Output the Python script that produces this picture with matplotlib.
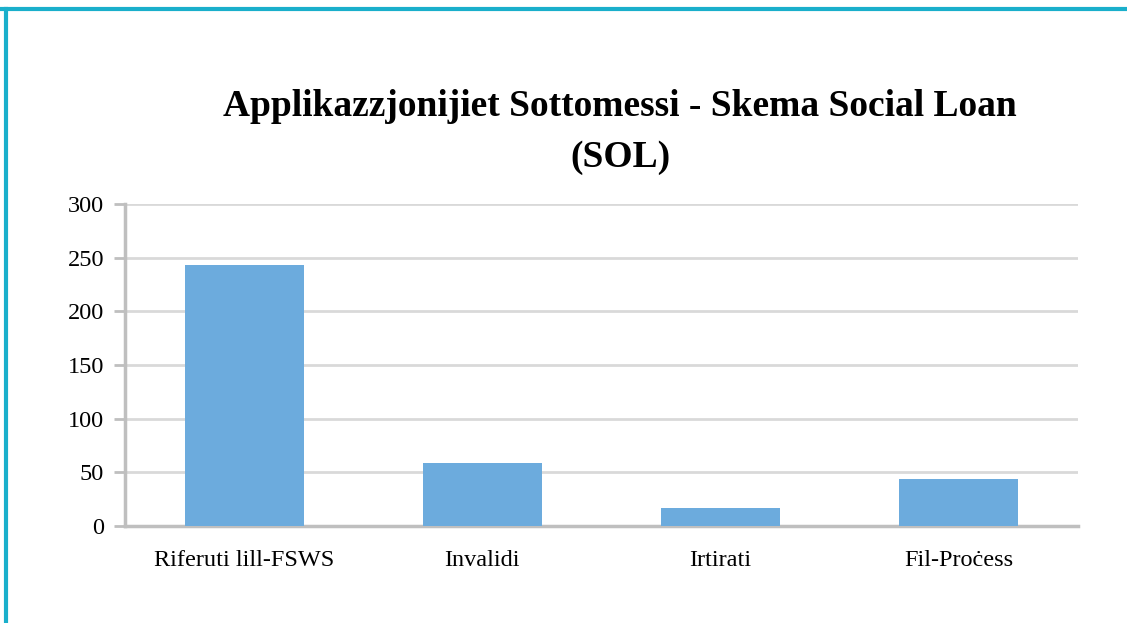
import matplotlib
matplotlib.use("Agg")
import matplotlib.pyplot as plt
from matplotlib.lines import Line2D

categories = ["Riferuti lill-FSWS", "Invalidi", "Irtirati", "Fil-Proċess"]
values = [243, 59, 17, 44]
yticks = [0, 50, 100, 150, 200, 250, 300]
title = "Applikazzjonijiet Sottomessi - Skema Social Loan\n(SOL)"

W, H, DPI = 1127, 623, 100
fig = plt.figure(figsize=(W / DPI, H / DPI), dpi=DPI)
plt.rcParams['font.family'] = ['Liberation Serif', 'DejaVu Serif']

ax = fig.add_axes([125 / W, 1 - 526 / H, (1078 - 125) / W, (526 - 204) / H])
x = range(len(categories))
ax.bar(x, values, width=0.5, color="#6CABDD", edgecolor="none", zorder=3)
ax.set_xlim(-0.5, len(categories) - 0.5)
ax.set_ylim(0, 300)
ax.set_yticks(yticks)
ax.set_yticklabels([str(t) for t in yticks], fontsize=17.5)
ax.set_xticks(list(x))
ax.set_xticklabels(categories, fontsize=17.5)
ax.tick_params(axis='x', length=0, pad=17)
ax.tick_params(axis='y', length=8, width=2, color="#BFBFBF", pad=7)
ax.grid(axis='y', color="#D9D9D9", linewidth=2, zorder=0)
for s in ["top", "right"]:
    ax.spines[s].set_visible(False)
for s in ["left", "bottom"]:
    ax.spines[s].set_color("#BFBFBF")
    ax.spines[s].set_linewidth(2.5)

fig.text(620 / W, 1 - 132 / H, title, ha="center", va="center",
         fontsize=27, fontweight="bold", linespacing=1.6)

# frame lines (top and left)
fig.add_artist(Line2D([0, 1], [1 - 9 / H, 1 - 9 / H], transform=fig.transFigure,
                      color="#1AAFCB", linewidth=3))
fig.add_artist(Line2D([5.5 / W, 5.5 / W], [0, 1 - 9 / H], transform=fig.transFigure,
                      color="#1AAFCB", linewidth=3))

fig.savefig("out.png", dpi=DPI)
